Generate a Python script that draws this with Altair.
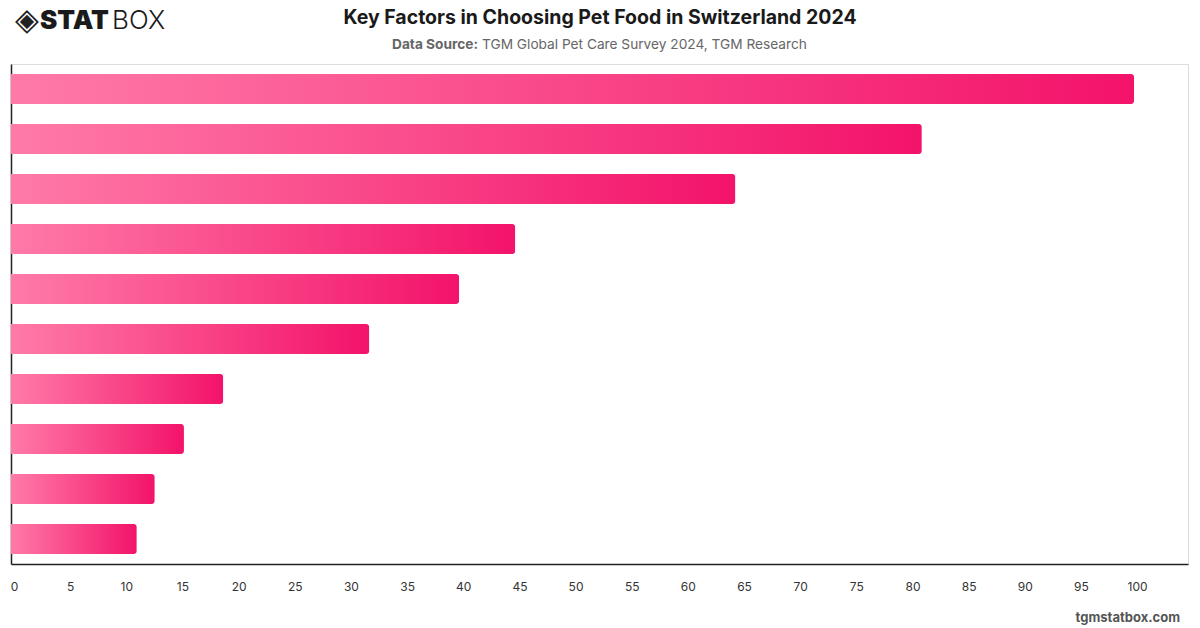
import altair as alt
import pandas as pd

categories = ["Factor 1", "Factor 2", "Factor 3", "Factor 4", "Factor 5",
              "Factor 6", "Factor 7", "Factor 8", "Factor 9", "Factor 10"]
values = [100, 81.1, 64.5, 44.9, 39.9, 31.9, 18.9, 15.4, 12.8, 11.2]
tick_values = list(range(0, 101, 5))

title_text = "Key Factors in Choosing Pet Food in Switzerland 2024"
source_label = "Data Source:"
source_text = "TGM Global Pet Care Survey 2024, TGM Research"
footer_text = "tgmstatbox.com"

df = pd.DataFrame({"category": categories, "value": values})

FONT = "Inter"
W, H = 1177, 500

grad = alt.Gradient(
    gradient="linear", x1=0, x2=1, y1=0, y2=0,
    stops=[alt.GradientStop(color="#ff7aa8", offset=0),
           alt.GradientStop(color="#f3136a", offset=1)],
)

bars = alt.Chart(df).mark_bar(
    color=grad, cornerRadiusTopRight=3, cornerRadiusBottomRight=3
).encode(
    x=alt.X("value:Q", scale=alt.Scale(domain=[0, 104.8], nice=False, zero=True),
            axis=alt.Axis(values=tick_values, title=None, grid=False, ticks=False,
                          domainColor="#222", domainWidth=1.5, labelFont=FONT,
                          labelFontSize=12, labelColor="#333", labelPadding=17,
                          labelFlush=False, labelAlign="center", labelOffset=3)),
    y=alt.Y("category:N", sort=categories,
            scale=alt.Scale(paddingInner=0.4, paddingOuter=0.2),
            axis=alt.Axis(title=None, labels=False, ticks=False, grid=False,
                          domainColor="#222", domainWidth=1.5)),
)

def txt(text, x, y, size, weight="normal", color="#222", align="center", font=FONT):
    return alt.Chart(pd.DataFrame({"t": [text]})).mark_text(
        fontSize=size, fontWeight=weight, color=color, align=align,
        baseline="middle", font=font
    ).encode(text="t:N", x=alt.value(x), y=alt.value(y))

title = txt(title_text, 589, -46, 19.5, "bold", "#1a1a1a")
src1 = txt(source_label, 467, -19, 13.7, "bold", "#666", "right")
src2 = txt(source_text, 471, -19, 13.7, "normal", "#666", "left")
footer = txt(footer_text, 1169, 554, 13, "bold", "#555", "right")
logo_d = txt("◈", 16, -43, 31, "normal", "#222", "center", "DejaVu Sans")
logo1 = txt("STAT", 29, -43, 26, 900, "#1a1a1a", "left")
logo2 = txt("BOX", 101, -43, 26, 300, "#1a1a1a", "left")

chart = alt.layer(bars, title, src1, src2, footer, logo_d, logo1, logo2).properties(
    width=W, height=H,
    autosize=alt.AutoSizeParams(type="none"),
    padding={"left": 11, "top": 64, "right": 12, "bottom": 64},
).configure_view(stroke=None).configure(background="white")

chart.save("out.html", embed_options={"renderer": "svg", "actions": False})
